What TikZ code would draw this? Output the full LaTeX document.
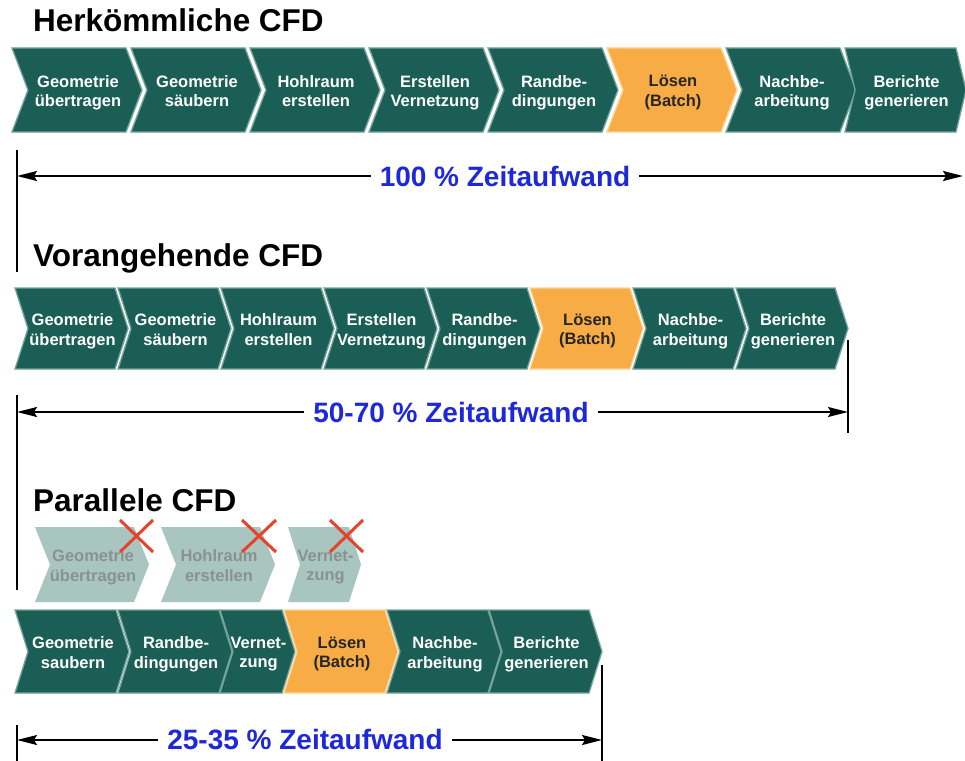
\documentclass[tikz,border=0pt]{standalone}
\usepackage{fontspec}
\setmainfont{Liberation Sans}
\usetikzlibrary{arrows.meta}
\definecolor{teal1}{HTML}{1B5E55}
\definecolor{tealedge}{HTML}{73A39A}
\definecolor{orng}{HTML}{F8AC45}
\definecolor{orngedge}{HTML}{FCD595}
\definecolor{ghost}{HTML}{A8C6BF}
\definecolor{ghosttext}{HTML}{8A9290}
\definecolor{pctblue}{HTML}{1C28DA}
\definecolor{redx}{HTML}{E5432B}
\pgfdeclarelayer{bg}
\pgfsetlayers{bg,main}
\newcommand{\chvpath}[5]{(#1,#2) -- ({#1+#4-#5},#2) -- ({#1+#4},{(#2+#3)/2}) -- ({#1+#4-#5},#3) -- (#1,#3) -- ({#1+#5},{(#2+#3)/2}) -- cycle}
% #1 name, #2 x0, #3 ytop, #4 ybot, #5 width, #6 point depth, #7 kind, #8 text
\newcommand{\chv}[8]{%
  \begin{pgfonlayer}{bg}
    \path[#7 shadow] \chvpath{#2-2}{#3+7}{#4+7}{#5}{#6};
    \path[#7 shadow] \chvpath{#2-1}{#3+4}{#4+4}{#5}{#6};
  \end{pgfonlayer}
  \path[#7 shape] \chvpath{#2}{#3}{#4}{#5}{#6};
  \node[#7 text, anchor=north] (#1) at ({#2+#5/2+1},{(#3+#4)/2-15}) {#8};
}
\tikzset{
  x=1pt, y=-1pt,
  chtxt/.style={font=\fontsize{16.5}{19.5}\selectfont\bfseries, align=center, inner sep=0pt},
  T shape/.style={fill=teal1, draw=tealedge, line width=1.3pt, line join=miter},
  T text/.style={chtxt, text=white},
  T shadow/.style={fill=black, opacity=0.13},
  O shape/.style={fill=orng, draw=orngedge, line width=1.3pt, line join=miter},
  O text/.style={chtxt, text=black!85},
  O shadow/.style={fill=black, opacity=0.13},
  G shape/.style={fill=ghost},
  G text/.style={chtxt, text=ghosttext},
  G shadow/.style={},
  title/.style={font=\fontsize{31.5}{36}\selectfont\bfseries, anchor=west, inner sep=0pt, text=black},
  pct/.style={font=\fontsize{28}{32}\selectfont\bfseries, text=pctblue, inner sep=9pt},
  arr/.style={line width=1.8pt, -{Stealth[length=20pt, width=10pt, inset=3pt]}},
  bar/.style={line width=2.2pt},
  xmark/.style={draw=redx, line width=3pt},
}
\begin{document}
\begin{tikzpicture}
\useasboundingbox[fill=white] (0,0) rectangle (965,760);

% ---------- Herkoemmliche CFD ----------
\node[title] (h1) at (33,20) {Herkömmliche CFD};
\chv{a1}{12}{48}{132}{130}{16}{T}{Geometrie\\übertragen}
\chv{a2}{131}{48}{132}{130}{16}{T}{Geometrie\\säubern}
\chv{a3}{250}{48}{132}{130}{16}{T}{Hohlraum\\erstellen}
\chv{a4}{369}{48}{132}{130}{16}{T}{Erstellen\\Vernetzung}
\chv{a5}{488}{48}{132}{130}{16}{T}{Randbe-\\dingungen}
\chv{a6}{607}{48}{132}{130}{16}{O}{Lösen\\(Batch)}
\chv{a7}{726}{48}{132}{130}{16}{T}{Nachbe-\\arbeitung}
\chv{a8}{845}{48}{132}{121}{10}{T}{Berichte\\generieren}

\draw[bar] (17,150) -- (17,272);
\coordinate (p1l) at (17,176);
\coordinate (p1r) at (963,176);
\node[pct] (p1) at (505,176) {100 \% Zeitaufwand};
\draw[arr] (p1) -- (p1l);
\draw[arr] (p1) -- (p1r);

% ---------- Vorangehende CFD ----------
\node[title] (h2) at (33,258) {Vorangehende CFD};
\chv{b1}{15}{288}{369}{113}{13}{T}{Geometrie\\übertragen}
\chv{b2}{118}{288}{369}{113}{13}{T}{Geometrie\\säubern}
\chv{b3}{221}{288}{369}{113}{13}{T}{Hohlraum\\erstellen}
\chv{b4}{324}{288}{369}{113}{13}{T}{Erstellen\\Vernetzung}
\chv{b5}{427}{288}{369}{113}{13}{T}{Randbe-\\dingungen}
\chv{b6}{530}{288}{369}{113}{13}{O}{Lösen\\(Batch)}
\chv{b7}{633}{288}{369}{113}{13}{T}{Nachbe-\\arbeitung}
\chv{b8}{736}{288}{369}{112}{13}{T}{Berichte\\generieren}

\draw[bar] (17,395) -- (17,590);
\draw[bar] (848,340) -- (848,433);
\coordinate (p2l) at (17,412);
\coordinate (p2r) at (848,412);
\node[pct] (p2) at (451,412) {50-70 \% Zeitaufwand};
\draw[arr] (p2) -- (p2l);
\draw[arr] (p2) -- (p2r);

% ---------- Parallele CFD ----------
\node[title] (h3) at (33,500) {Parallele CFD};
\chv{g1}{35}{527}{602}{114}{15}{G}{Geometrie\\übertragen}
\chv{g2}{161}{527}{602}{114}{15}{G}{Hohlraum\\erstellen}
\chv{g3}{288}{527}{602}{73}{12}{G}{Vernet-\\zung}
\draw[xmark] (120,520) -- (153,552) (153,520) -- (120,552);
\draw[xmark] (242,520) -- (276,552) (276,520) -- (242,552);
\draw[xmark] (330,520) -- (363,552) (363,520) -- (330,552);

\chv{c1}{15}{610}{693}{114}{13}{T}{Geometrie\\saubern}
\chv{c2}{118}{610}{693}{114}{13}{T}{Randbe-\\dingungen}
\chv{c3}{220}{610}{693}{75}{13}{T}{Vernet-\\zung}
\chv{c4}{284}{610}{693}{114}{13}{O}{Lösen\\(Batch)}
\chv{c5}{387}{610}{693}{114}{13}{T}{Nachbe-\\arbeitung}
\chv{c6}{489}{610}{693}{113}{13}{T}{Berichte\\generieren}

\draw[bar] (17,725) -- (17,762);
\draw[bar] (602,665) -- (602,762);
\coordinate (p3l) at (17,740);
\coordinate (p3r) at (602,740);
\node[pct] (p3) at (305,740) {25-35 \% Zeitaufwand};
\draw[arr] (p3) -- (p3l);
\draw[arr] (p3) -- (p3r);
\end{tikzpicture}
\end{document}
